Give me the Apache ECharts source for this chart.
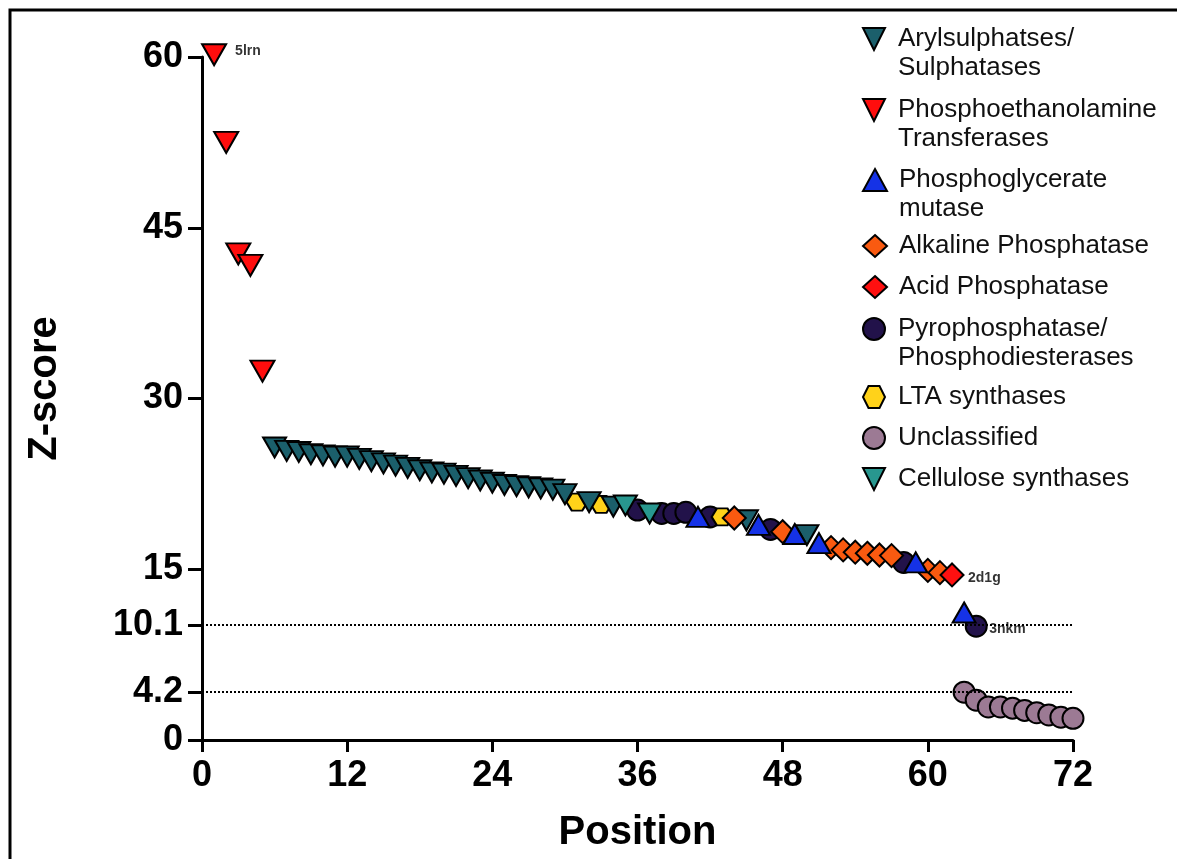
<!DOCTYPE html>
<html><head><meta charset="utf-8">
<script src="https://cdn.jsdelivr.net/npm/echarts@6/dist/echarts.min.js"></script>
<style>html,body{margin:0;padding:0;background:#fff}#c{width:1177px;height:859px}</style>
</head><body><div id="c"></div>
<script>
// ---- data ----
const xTicks = [0, 12, 24, 36, 48, 60, 72];
const yTicks = [0, 4.2, 10.1, 15, 30, 45, 60];
const refLines = [10.1, 4.2];

const arylPos = [6,7,8,9,10,11,12,13,14,15,16,17,18,19,20,21,22,23,24,25,26,27,28,29,30,32,34,45,50];
const arylVal = [25.7,25.4,25.3,25.1,25.0,24.9,24.9,24.7,24.5,24.3,24.1,23.9,23.7,23.5,23.4,23.2,23.0,22.8,22.6,22.4,22.3,22.2,22.1,22.0,21.6,20.9,20.5,19.3,18.0];

const petPos = [1,2,3,4,5];
const petVal = [60.2,52.5,42.7,41.7,32.4];

const pgmPos = [41,46,49,51,59,63];
const pgmVal = [19.6,18.9,18.1,17.3,15.6,11.2];

const alkPos = [44,48,52,53,54,55,56,57,60,61];
const alkVal = [19.5,18.3,16.9,16.7,16.5,16.4,16.25,16.2,14.9,14.7];

const acidPos = [62];
const acidVal = [14.5];

const pyroPos = [36,38,39,40,42,47,58,64];
const pyroVal = [20.2,19.9,19.9,20.0,19.6,18.5,15.6,10.0];

const ltaPos = [31,33,43];
const ltaVal = [20.9,20.7,19.6];

const uncPos = [63,64,65,66,67,68,69,70,71,72];
const uncVal = [4.2,3.5,2.9,2.9,2.8,2.6,2.4,2.2,2.0,1.9];

const celPos = [35,37];
const celVal = [20.6,19.9];

const annotationText = ['5lrn', '2d1g', '3nkm'];
const annotationPos = [1, 62, 64];

const names = [
  'Arylsulphatses/\nSulphatases',
  'Phosphoethanolamine\nTransferases',
  'Phosphoglycerate\nmutase',
  'Alkaline Phosphatase',
  'Acid Phosphatase',
  'Pyrophosphatase/\nPhosphodiesterases',
  'LTA synthases',
  'Unclassified',
  'Cellulose synthases'
];

// ---- build ----
const pts = (p, v) => p.map((x, i) => [x, v[i]]);
const DOWN = 'path://M0,0 L1,0 L0.5,1 Z';
const HEX = 'path://M0.25,0 L0.75,0 L1,0.5 L0.75,1 L0.25,1 L0,0.5 Z';
const FONT = 'Liberation Sans, Arial, sans-serif';

const groups = [
  {name: names[0], data: pts(arylPos, arylVal), symbol: DOWN, size: [23, 20], color: '#1b5f6b', z: 4},
  {name: names[1], data: pts(petPos, petVal), symbol: DOWN, size: [24, 21], color: '#ff0d0d', z: 9},
  {name: names[2], data: pts(pgmPos, pgmVal), symbol: 'triangle', size: [23, 20], color: '#1532e6', z: 8},
  {name: names[3], data: pts(alkPos, alkVal), symbol: 'diamond', size: [23, 23], color: '#fa5a10', z: 5},
  {name: names[4], data: pts(acidPos, acidVal), symbol: 'diamond', size: [23, 23], color: '#ff1010', z: 6},
  {name: names[5], data: pts(pyroPos, pyroVal), symbol: 'circle', size: 21, color: '#22124a', z: 2},
  {name: names[6], data: pts(ltaPos, ltaVal), symbol: HEX, size: [21, 17], color: '#ffd21a', z: 3},
  {name: names[7], data: pts(uncPos, uncVal), symbol: 'circle', size: 21, color: '#9c7a94', z: 3},
  {name: names[8], data: pts(celPos, celVal), symbol: DOWN, size: [23, 20], color: '#28978f', z: 7}
];

const annSrc = [groups[1].data, groups[4].data, groups[5].data];
const annStyle = [{distance: 20, offset: [0, -4]}, {distance: 15, offset: [0, 3]}, {distance: 12, offset: [0, 3]}];
const annPts = annotationPos.map((p, i) => {
  const found = annSrc[i].find(d => d[0] === p);
  return {value: found, label: Object.assign({formatter: annotationText[i]}, annStyle[i])};
});

const series = groups.map(g => ({
  type: 'scatter', name: g.name, data: g.data, symbol: g.symbol, symbolSize: g.size, z: g.z,
  clip: false,
  itemStyle: {color: g.color, borderColor: '#000', borderWidth: 2, opacity: 1},
  emphasis: {disabled: true}
}));
series.push({
  type: 'scatter', name: 'refs', data: [], z: 1, silent: true,
  markLine: {
    silent: true, symbol: 'none', label: {show: false},
    lineStyle: {color: '#000', type: [2, 2], width: 2},
    data: refLines.map(v => ({yAxis: v}))
  }
});
series.push({
  type: 'scatter', name: 'ann', data: annPts, symbolSize: 2, z: 10, silent: true, clip: false,
  itemStyle: {color: 'rgba(0,0,0,0)', borderWidth: 0},
  label: {show: true, position: 'right', color: '#000', fontSize: 14, fontWeight: 'bold', fontFamily: FONT}
});

// legends: icon centres
const legendY = [39, 110, 180, 246, 287, 329, 397, 438, 479];
const legends = names.map((n, i) => {
  const two = n.indexOf('\n') >= 0;
  return {
    data: [n], orient: 'vertical', left: 862, padding: 0,
    top: legendY[i] - (two ? 43.5 : 14.5),
    itemWidth: 24, itemHeight: 22, selectedMode: false,
    formatter: two ? (name => '\u00a0\n' + name) : (name => name),
    textStyle: {fontSize: 26, lineHeight: 29, color: '#111', fontFamily: FONT, padding: [0, 0, 0, 7]}
  };
});

const chart = echarts.init(document.getElementById('c'), null, {renderer: 'canvas'});
chart.setOption({
  backgroundColor: '#fff',
  animation: false,
  textStyle: {fontFamily: FONT},
  grid: {left: 202, right: 104, top: 57, bottom: 119, containLabel: false},
  legend: legends,
  graphic: [{type: 'rect', shape: {x: 10, y: 10, width: 1400, height: 1000}, style: {fill: 'none', stroke: '#000', lineWidth: 3}, silent: true}],
  xAxis: {
    type: 'value', min: xTicks[0], max: xTicks[xTicks.length - 1], interval: 12,
    name: 'Position', nameLocation: 'middle', nameGap: 73,
    nameTextStyle: {fontSize: 40, fontWeight: 'bold', color: '#000', fontFamily: FONT},
    axisLine: {lineStyle: {color: '#000', width: 3}},
    axisTick: {show: true, length: 12, lineStyle: {color: '#000', width: 3}},
    axisLabel: {fontSize: 36, fontWeight: 'bold', color: '#000', margin: 18, fontFamily: FONT},
    splitLine: {show: false}
  },
  yAxis: {
    type: 'value', min: 0, max: 60,
    name: 'Z-score', nameLocation: 'middle', nameGap: 137, nameRotate: 90,
    nameTextStyle: {fontSize: 40, fontWeight: 'bold', color: '#000', fontFamily: FONT, padding: [0, 0, 0, 20]},
    axisLine: {show: true, lineStyle: {color: '#000', width: 3}},
    axisTick: {show: true, length: 14, customValues: yTicks, lineStyle: {color: '#000', width: 3}},
    axisLabel: {fontSize: 36, fontWeight: 'bold', color: '#000', margin: 19, customValues: yTicks, fontFamily: FONT,
      formatter: v => String(v)},
    splitLine: {show: false}
  },
  series: series
});
</script>
</body></html>
